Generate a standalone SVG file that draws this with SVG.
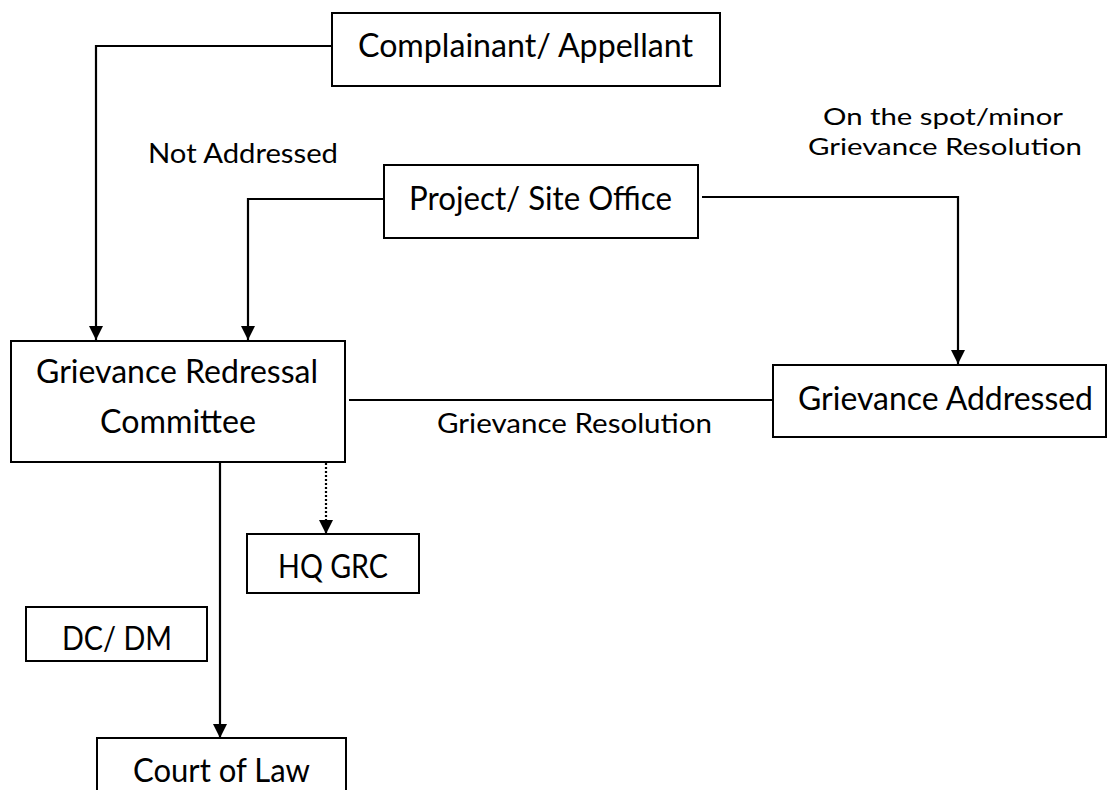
<svg xmlns="http://www.w3.org/2000/svg" width="1107" height="790" viewBox="0 0 1107 790">
<style>
.box{fill:#fff;stroke:#000;stroke-width:2}
.t{font-family:Lato,"Liberation Sans",sans-serif;font-size:32px;fill:#000;text-anchor:middle}
.l{font-family:Lato,"Liberation Sans",sans-serif;font-size:27px;fill:#000;text-anchor:middle}
.s{font-family:Lato,"Liberation Sans",sans-serif;font-size:24px;fill:#000;text-anchor:middle}
.c{fill:none;stroke:#000;stroke-width:2.2}
.d{fill:none;stroke:#000;stroke-width:2.2;stroke-dasharray:2 2}
</style>
<defs>
<marker id="ah" markerUnits="userSpaceOnUse" markerWidth="14" markerHeight="14" refX="14" refY="7" orient="auto" viewBox="0 0 14 14">
<path d="M0,0 L14,7 L0,14 z" fill="#000"/>
</marker>
</defs>
<rect width="1107" height="790" fill="#fff"/>
<g id="connectors">
<path class="c" d="M332 46 H96 V340" marker-end="url(#ah)"/>
<path class="c" d="M384 199 H248 V340" marker-end="url(#ah)"/>
<path class="c" d="M702 197 H958 V364" marker-end="url(#ah)"/>
<path class="c" d="M349 400 H773"/>
<path class="d" d="M326 463 V534" marker-end="url(#ah)"/>
<path class="c" d="M220 462 V738" marker-end="url(#ah)"/>
</g>
<g id="labels">
<text class="l" x="243" y="163" textLength="190" lengthAdjust="spacingAndGlyphs">Not Addressed</text>
<text class="s" x="943" y="125" textLength="240" lengthAdjust="spacingAndGlyphs">On the spot/minor</text>
<text class="s" x="945" y="155" textLength="274" lengthAdjust="spacingAndGlyphs">Grievance Resolution</text>
<text class="l" x="574.5" y="433" textLength="275" lengthAdjust="spacingAndGlyphs">Grievance Resolution</text>
</g>
<g id="complainant">
<rect class="box" x="332" y="13" width="388" height="73"/>
<text class="t" x="525.5" y="57" textLength="335" lengthAdjust="spacingAndGlyphs">Complainant/ Appellant</text>
</g>
<g id="project">
<rect class="box" x="384" y="165" width="314" height="73"/>
<text class="t" x="540.5" y="210" textLength="263" lengthAdjust="spacingAndGlyphs">Project/ Site Office</text>
</g>
<g id="grc">
<rect class="box" x="11" y="341" width="334" height="121"/>
<text class="t" x="177" y="383" textLength="282" lengthAdjust="spacingAndGlyphs">Grievance Redressal</text>
<text class="t" x="178" y="433" textLength="156" lengthAdjust="spacingAndGlyphs">Committee</text>
</g>
<g id="addressed">
<rect class="box" x="773" y="365" width="333" height="72"/>
<text class="t" x="945.5" y="410" textLength="295" lengthAdjust="spacingAndGlyphs">Grievance Addressed</text>
</g>
<g id="hqgrc">
<rect class="box" x="247" y="534" width="172" height="59"/>
<text class="t" x="333" y="578" textLength="110" lengthAdjust="spacingAndGlyphs">HQ GRC</text>
</g>
<g id="dcdm">
<rect class="box" x="26" y="607" width="181" height="54"/>
<text class="t" x="117" y="650" textLength="110" lengthAdjust="spacingAndGlyphs">DC/ DM</text>
</g>
<g id="court">
<rect class="box" x="97" y="738" width="249" height="70"/>
<text class="t" x="221.5" y="782" textLength="177" lengthAdjust="spacingAndGlyphs">Court of Law</text>
</g>
</svg>
